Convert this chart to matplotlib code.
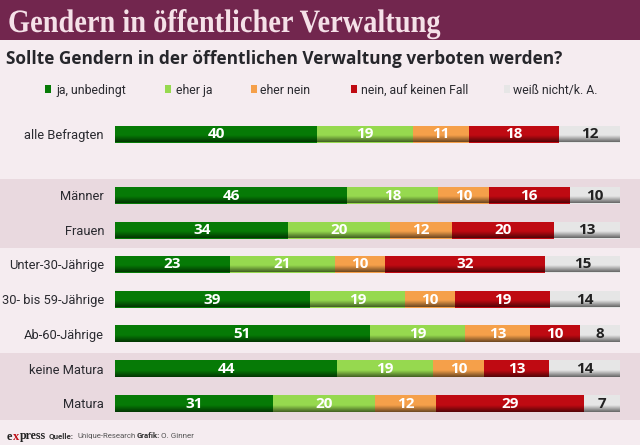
import numpy as np
import matplotlib
matplotlib.use("Agg")
import matplotlib.pyplot as plt
from matplotlib.patches import Rectangle
from matplotlib.patheffects import AbstractPathEffect
from matplotlib.transforms import Affine2D

categories = ["alle Befragten", "Männer", "Frauen", "Unter-30-Jährige",
              "30- bis 59-Jährige", "Ab-60-Jährige", "keine Matura", "Matura"]
ja_unbedingt = [40, 46, 34, 23, 39, 51, 44, 31]
eher_ja = [19, 18, 20, 21, 19, 19, 19, 20]
eher_nein = [11, 10, 12, 10, 10, 13, 10, 12]
nein_kein_fall = [18, 16, 20, 32, 19, 10, 13, 29]
weiss_nicht = [12, 10, 13, 15, 14, 8, 14, 7]
series_names = ["ja, unbedingt", "eher ja", "eher nein", "nein, auf keinen Fall", "weiß nicht/k. A."]
title = "Gendern in öffentlicher Verwaltung"
subtitle = "Sollte Gendern in der öffentlichen Verwaltung verboten werden?"

series = [ja_unbedingt, eher_ja, eher_nein, nein_kein_fall, weiss_nicht]
colors = ["#067a06", "#96d94f", "#f5a04a", "#bf0a12", "#e6e6e6"]
text_colors = ["white", "white", "white", "white", "#222222"]
row_y = [134, 195, 230, 264, 299, 333.5, 368.5, 403.5]
legend_x = [45, 164.5, 251, 351, 504]
legend_text_x = [56, 175.5, 260, 361, 513]
W, H = 640, 445


class Condense(AbstractPathEffect):
    """Narrow the glyphs horizontally, anchored at the text start."""
    def __init__(self, sx):
        super().__init__()
        self.sx = sx

    def draw_path(self, renderer, gc, tpath, affine, rgbFace=None):
        renderer.draw_path(gc, tpath, Affine2D().scale(self.sx, 1) + affine, rgbFace)


fig = plt.figure(figsize=(W / 100, H / 100), dpi=100, facecolor="#f5ecf0")
bg = fig.add_axes([0, 0, 1, 1], zorder=0)
bg.set_xlim(0, W); bg.set_ylim(H, 0); bg.axis("off")
bg.add_patch(Rectangle((0, 0), W, 40, color="#72264e", lw=0))
bg.add_patch(Rectangle((0, 179), W, 69, color="#e9d9df", lw=0))
bg.add_patch(Rectangle((0, 352.5), W, 67.5, color="#e9d9df", lw=0))
bg.text(8, 20, title, family="Liberation Serif", weight="bold", fontsize=23.5,
        color="#f5e1e8", va="center_baseline", ha="left",
        path_effects=[Condense(0.87)])
bg.text(6, 57, subtitle, family="Open Sans", weight="bold", fontsize=12.45,
        color="#26262b", va="center_baseline", ha="left")

for x, tx, name, c in zip(legend_x, legend_text_x, series_names, colors):
    bg.add_patch(Rectangle((x, 85), 6, 8, color=c, lw=0))
    bg.text(tx, 89, name, family="Roboto", fontsize=8.8, color="#2a2a30",
            va="center_baseline", ha="left")

# bars in percent of each row's total, placed over the plot band
ax = fig.add_axes([115 / W, 0, 505 / W, 1], zorder=1, facecolor="none")
ax.set_xlim(0, 100); ax.set_ylim(H, 0); ax.axis("off")
totals = np.sum(series, axis=0).astype(float)
left = np.zeros(len(categories))
grad = np.zeros((32, 1, 4))
t = np.linspace(0, 1, 32)
grad[:, 0, 3] = np.clip((t - 0.6) / 0.4, 0, 1) * 0.55
for vals, c, tc in zip(series, colors, text_colors):
    raw = np.array(vals, float)
    v = raw / totals * 100
    ax.barh(row_y, v, left=left, height=17, color=c, lw=0, zorder=2)
    for y, l, w, val in zip(row_y, left, v, raw):
        ax.text(l + w / 2, y - 1, f"{int(val)}", family="Open Sans", weight="bold",
                fontsize=11, color=tc, ha="center", va="center_baseline", zorder=4)
    left = left + v
for y in row_y:
    ax.imshow(grad, extent=(0, 100, y + 8.5, y - 8.5), aspect="auto", zorder=3, interpolation="bilinear")
ax.set_xlim(0, 100); ax.set_ylim(H, 0)

for y, cat in zip(row_y, categories):
    bg.text(104, y, cat, family="Roboto", fontsize=9.3, color="#2a2a30", ha="right", va="center_baseline")

bg.text(7, 435, "e", family="Liberation Serif", weight="bold", fontsize=9, color="#222", va="center_baseline")
bg.text(13, 435, "x", family="Liberation Serif", weight="bold", fontsize=9, color="#c01018", va="center_baseline")
bg.text(20, 435, "press", family="Liberation Serif", weight="bold", fontsize=8.6, color="#222", va="center_baseline")
bg.text(49, 435.5, "Quelle:", family="Roboto", weight="bold", fontsize=5.8, color="#333", va="center_baseline")
bg.text(77, 435.5, "Unique-Research", family="Roboto", fontsize=5.6, color="#555", va="center_baseline")
bg.text(136.5, 435.5, "Grafik:", family="Roboto", weight="bold", fontsize=5.6, color="#333", va="center_baseline")
bg.text(161, 435.5, "O. Ginner", family="Roboto", fontsize=5.8, color="#555", va="center_baseline")

fig.savefig("out.png", dpi=100, facecolor=fig.get_facecolor())
